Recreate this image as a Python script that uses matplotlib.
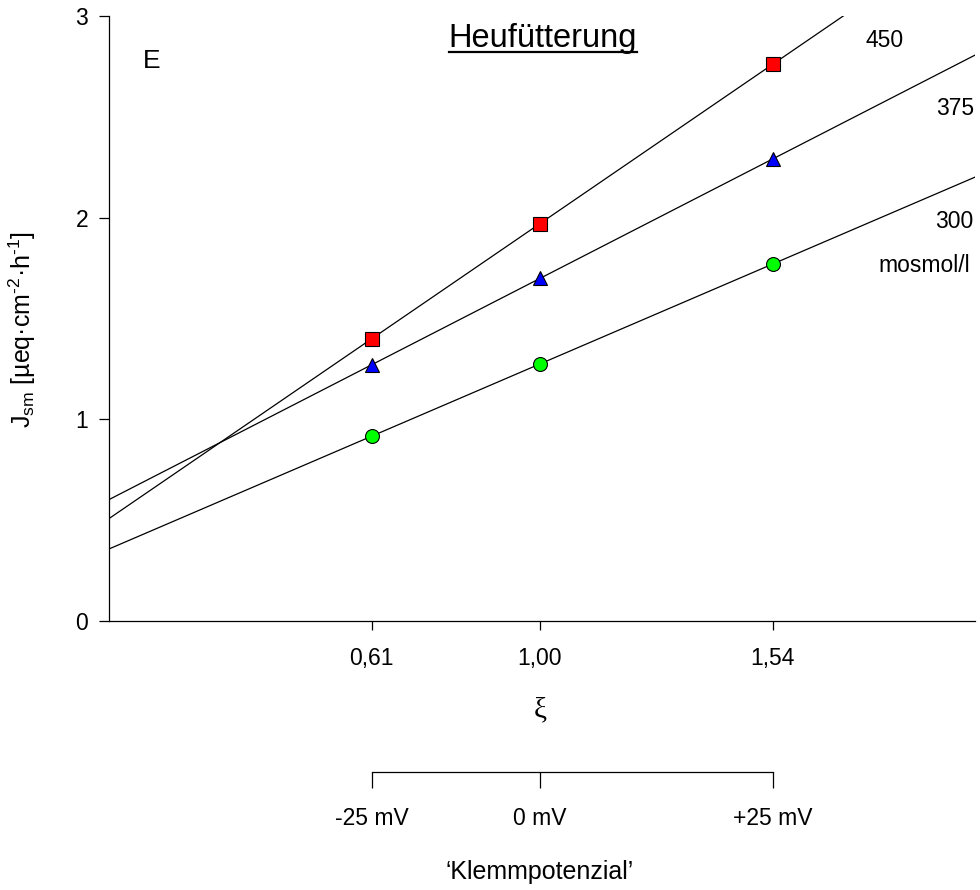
import numpy as np
import matplotlib
matplotlib.use("Agg")
import matplotlib.pyplot as plt
from matplotlib.lines import Line2D

plt.rcParams['font.family'] = ['Liberation Sans', 'DejaVu Sans']
plt.rcParams['mathtext.fontset'] = 'custom'
plt.rcParams['mathtext.rm'] = 'Liberation Sans'
plt.rcParams['mathtext.it'] = 'Liberation Sans:italic'

# data
xi = [0.61, 1.00, 1.54]
xi_labels = ['0,61', '1,00', '1,54']
potential_labels = ['-25 mV', '0 mV', '+25 mV']
j_450 = [1.40, 1.97, 2.76]
j_375 = [1.27, 1.70, 2.29]
j_300 = [0.917, 1.274, 1.77]

W, H = 980, 890


def px(x, y):
    # pixel position (from top-left) -> figure fraction
    return x / W, (H - y) / H


fig = plt.figure(figsize=(W / 100, H / 100), dpi=100)
left, right, top, bottom = 109, 975, 16, 621
ax = fig.add_axes([left / W, (H - bottom) / H, (right - left) / W, (bottom - top) / H])
ax.set_xlim(0, 2.01)
ax.set_ylim(0, 3)

xfit = np.array(ax.get_xlim())
series = [
    (j_450, 's', '#ff0000', 9.5),
    (j_375, '^', '#0000ff', 10.5),
    (j_300, 'o', '#00ff00', 10),
]
for vals, mk, col, ms in series:
    k, d = np.polyfit(xi, vals, 1)
    ax.plot(xfit, k * xfit + d, color='black', lw=0.9, zorder=2)
    ax.plot(xi, vals, ls='none', marker=mk, ms=ms, mfc=col, mec='black',
            mew=0.8, zorder=3, clip_on=False)

for s in ['top', 'right']:
    ax.spines[s].set_visible(False)
for s in ['left', 'bottom']:
    ax.spines[s].set_linewidth(0.9)

ax.set_xticks(xi)
ax.set_xticklabels(xi_labels)
ax.set_yticks([0, 1, 2, 3])
ax.set_yticklabels(['0', '1', '2', '3'])
ax.tick_params(axis='x', direction='out', length=6.5, width=0.9, pad=12, labelsize=16.5)
ax.tick_params(axis='y', direction='out', length=7, width=0.9, pad=8, labelsize=16.5)

ax.set_ylabel('J$_{\\mathrm{sm}}$ [µeq·cm$^{\\mathrm{\u20102}}$·h$^{\\mathrm{\u20101}}$]', fontsize=18)
ax.yaxis.set_label_coords((38 - left) / (right - left), (bottom - 330) / (bottom - top))

# second scale: clamp potential
ax2 = fig.add_axes([left / W, (H - 772) / H, (right - left) / W, 0.01])
ax2.set_xlim(ax.get_xlim())
ax2.patch.set_visible(False)
for s in ['top', 'right', 'left']:
    ax2.spines[s].set_visible(False)
ax2.spines['bottom'].set_bounds(xi[0], xi[-1])
ax2.spines['bottom'].set_linewidth(0.9)
ax2.set_yticks([])
ax2.set_xticks(xi)
ax2.set_xticklabels(potential_labels)
ax2.tick_params(axis='x', direction='out', length=11.5, width=0.9, pad=14, labelsize=16.5)

# texts
fig.text(*px(540, 717), 'ξ', family=['Liberation Serif', 'DejaVu Serif'],
         fontsize=21, ha='center', va='baseline')
fig.text(*px(540, 879), '‘Klemmpotenzial’', fontsize=18, ha='center', va='baseline')
fig.text(*px(152, 68), 'E', fontsize=19, ha='center', va='baseline')
fig.text(*px(885, 47), '450', fontsize=16.5, ha='center', va='baseline')
fig.text(*px(974, 115), '375', fontsize=16.5, ha='right', va='baseline')
fig.text(*px(973, 228), '300', fontsize=16.5, ha='right', va='baseline')
fig.text(*px(970, 272), 'mosmol/l', fontsize=16.5, ha='right', va='baseline')

title = fig.text(*px(543, 47), 'Heufütterung', fontsize=23.5, ha='center', va='baseline')
fig.canvas.draw()
bb = title.get_window_extent().transformed(fig.transFigure.inverted())
uy = (H - 52) / H
fig.add_artist(Line2D([bb.x0, bb.x1], [uy, uy], transform=fig.transFigure,
                      color='black', lw=1.6))

fig.savefig('out.png', dpi=100)
